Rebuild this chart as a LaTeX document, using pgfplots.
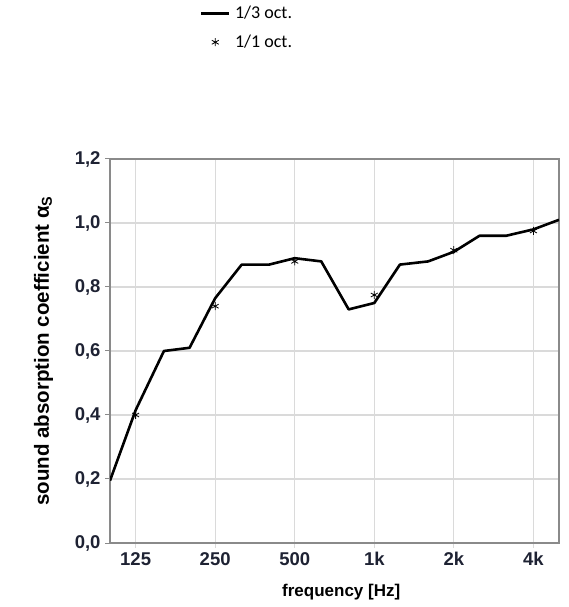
\documentclass[border=0pt]{standalone}
\usepackage{fontspec}
\setmainfont{Liberation Sans}
\newfontfamily\legfont{Carlito}
\usepackage{pgfplots}
\pgfplotsset{compat=1.18}
\definecolor{tickcol}{HTML}{1E2233}
\definecolor{gridcol}{HTML}{DADADA}
\definecolor{framecol}{HTML}{8A8A8A}
\begin{document}
\begin{tikzpicture}[x=1pt,y=1pt]
\path[use as bounding box] (0,0) rectangle (569,607);
\begin{axis}[
  at={(110pt,64pt)}, anchor=south west,
  scale only axis, width=449pt, height=384pt,
  xmode=log, log basis x=2,
  xmin=100, xmax=5000, ymin=0, ymax=1.2,
  xtick={125,250,500,1000,2000,4000},
  xticklabels={125,250,500,1k,2k,4k},
  ytick={0,0.2,0.4,0.6,0.8,1.0,1.2},
  yticklabel style={xshift=-1pt, /pgf/number format/.cd, fixed, fixed zerofill, precision=1, use comma},
  /pgf/number format/assume math mode=true,
  ticklabel style={font=\fontsize{18.5}{20}\selectfont\bfseries, text=tickcol},
  xticklabel style={yshift=-1pt},
  tick pos=left, tick align=outside,
  xtick style={draw=gridcol, line width=1.3pt},
  ytick style={draw=framecol, line width=1pt},
  major tick length=5pt,
  grid=major, major grid style={draw=gridcol, line width=1.3pt},
  axis line style={draw=framecol, line width=1.8pt},
  xlabel={frequency [Hz]},
  xlabel style={font=\fontsize{17}{19}\selectfont\bfseries, at={(axis description cs:0.515,-0.128)}, anchor=center},
  ylabel={sound absorption coefficient α\textsubscript{S}},
  ylabel style={font=\fontsize{20.5}{22}\selectfont\bfseries, at={(axis description cs:-0.148,0.5)}, anchor=center},
  legend style={at={(axis description cs:0.2,1.41)}, anchor=north west, draw=none, fill=none,
    font=\legfont\fontsize{18}{20}\selectfont, row sep=6pt, inner sep=0pt, nodes={inner sep=4.5pt}},
  legend cell align=left,
  legend image code/.code={\draw[#1, mark repeat=2, mark phase=2] plot coordinates {(0pt,0pt) (14pt,0pt) (28pt,0pt)};},
]
\addplot[black, line width=2.6pt, line join=round] coordinates {
(100,0.195) (125,0.415) (160,0.60) (200,0.61) (250,0.765) (315,0.87) (400,0.87)
(500,0.89) (630,0.88) (800,0.73) (1000,0.75) (1250,0.87) (1600,0.88) (2000,0.91)
(2500,0.96) (3150,0.96) (4000,0.98) (5000,1.01)};
\addlegendentry{1/3 oct.}
\addplot[only marks, mark=asterisk, mark size=4pt, black, line width=0.8pt] coordinates {
(125,0.40) (250,0.74) (500,0.88) (1000,0.775) (2000,0.915) (4000,0.975)};
\addlegendentry{1/1 oct.}
\end{axis}
\end{tikzpicture}
\end{document}
